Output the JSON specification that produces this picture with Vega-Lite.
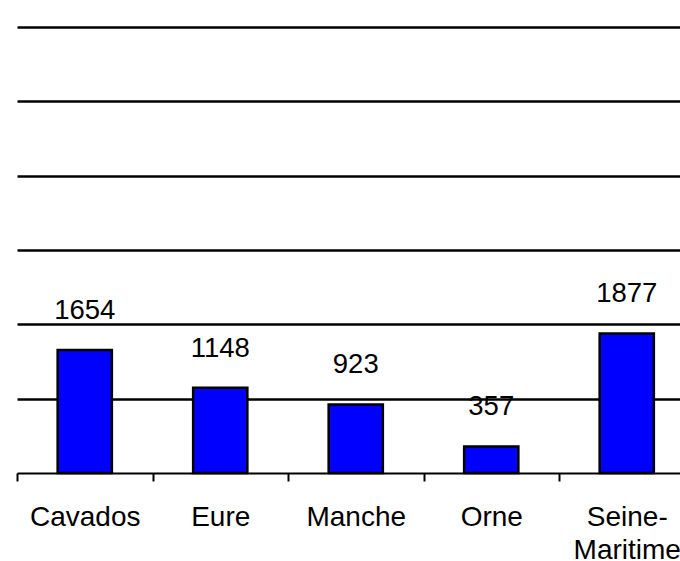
{
  "$schema": "https://vega.github.io/schema/vega-lite/v6.json",
  "autosize": {"type": "none"},
  "width": 677.5,
  "height": 446,
  "padding": {"left": 17, "top": 27, "right": 0, "bottom": 88},
  "background": "white",
  "config": {"view": {"stroke": null}, "font": "Liberation Sans"},
  "data": {"values": [
    {"dept": "Cavados", "value": 1654},
    {"dept": "Eure", "value": 1148},
    {"dept": "Manche", "value": 923},
    {"dept": "Orne", "value": 357},
    {"dept": "Seine-Maritime", "value": 1877}
  ]},
  "encoding": {
    "x": {"field": "dept", "type": "nominal", "sort": null,
      "scale": {"paddingInner": 0, "paddingOuter": 0},
      "axis": {"title": null, "labelAngle": 0, "labelFontSize": 28, "labelColor": "black",
        "labelFont": "Liberation Sans", "labelPadding": 22, "labelLineHeight": 33,
        "labelExpr": "datum.label == 'Seine-Maritime' ? ['Seine-', 'Maritime'] : datum.label",
        "domainColor": "black", "domainWidth": 2, "tickColor": "black", "tickWidth": 2, "tickSize": 8,
        "tickBand": "extent", "grid": false}},
    "y": {"field": "value", "type": "quantitative",
      "scale": {"domain": [0, 6000]},
      "axis": {"title": null, "labels": false, "ticks": false, "domain": false,
        "values": [1000, 2000, 3000, 4000, 5000, 6000],
        "grid": true, "gridColor": "black", "gridWidth": 2.5, "gridOpacity": 1}}
  },
  "layer": [
    {"mark": {"type": "bar", "width": {"band": 0.4}, "color": "#0000FF", "stroke": "black", "strokeWidth": 2.5}},
    {"mark": {"type": "text", "fontSize": 27.5, "color": "black", "baseline": "middle", "dy": -39, "font": "Liberation Sans"},
      "encoding": {"text": {"field": "value", "type": "quantitative"}}}
  ]
}
